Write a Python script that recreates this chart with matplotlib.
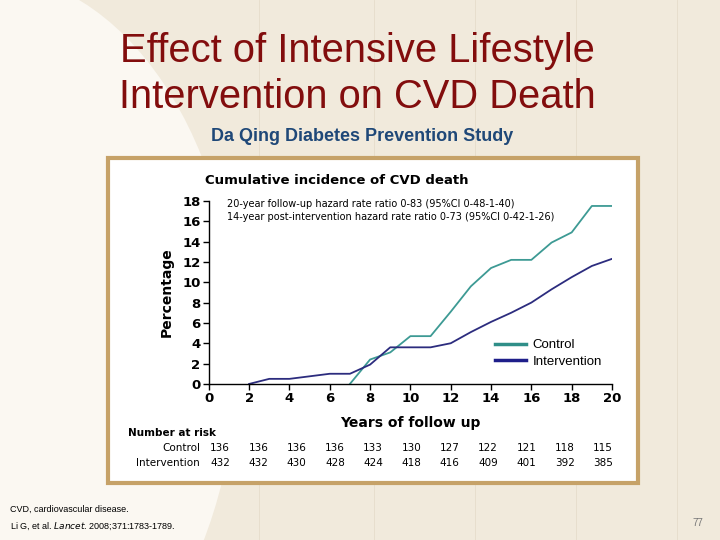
import matplotlib.pyplot as plt
from matplotlib.patches import Rectangle, Ellipse
from matplotlib.lines import Line2D

# Courbes d'incidence cumulée (lecture sur le graphique)
control_years = [7, 8, 9, 10, 11, 12, 13, 14, 15, 16, 17, 18, 19, 20]
control_pct = [0, 2.4, 3.1, 4.7, 4.7, 7.1, 9.6, 11.4, 12.2, 12.2, 13.9, 14.9, 17.5, 17.5]
interv_years = [2, 3, 4, 5, 6, 7, 8, 9, 10, 11, 12, 13, 14, 15, 16, 17, 18, 19, 20]
interv_pct = [0, 0.5, 0.5, 0.75, 1.0, 1.0, 1.9, 3.6, 3.6, 3.6, 4.0, 5.1, 6.1, 7.0, 8.0, 9.3, 10.5, 11.6, 12.3]

# Nombre de sujets à risque
risk_control = [136, 136, 136, 136, 133, 130, 127, 122, 121, 118, 115]
risk_interv = [432, 432, 430, 428, 424, 418, 416, 409, 401, 392, 385]

x_ticks = list(range(0, 21, 2))
y_ticks = list(range(0, 19, 2))

c_control = "#3d9a94"
c_interv = "#2c2c7e"

fig = plt.figure(figsize=(7.2, 5.4), dpi=100)
fig.patch.set_facecolor("#f1eadc")

# fond clair à gauche de la diapo
fig.patches.append(Ellipse((-0.02, 0.35), 0.70, 1.40, transform=fig.transFigure,
                           facecolor="#fbf8f2", edgecolor="none", zorder=0))
for xv in [0.36, 0.52, 0.66, 0.80, 0.94]:
    fig.add_artist(Line2D([xv, xv], [0, 1], transform=fig.transFigure,
                          color="#e6dccb", lw=0.6, zorder=0))

# Titre
fig.text(0.497, 0.906, "Effect of Intensive Lifestyle", ha="center", va="center",
         fontsize=28.7, color="#820d0d", family="Liberation Sans")
fig.text(0.497, 0.820, "Intervention on CVD Death", ha="center", va="center",
         fontsize=28.7, color="#820d0d", family="Liberation Sans")
fig.text(0.503, 0.748, "Da Qing Diabetes Prevention Study", ha="center", va="center",
         fontsize=13, color="#1f4878", fontweight="bold", family="Liberation Sans")

# Cadre du graphique
fig.patches.append(Rectangle((0.150, 0.1056), 0.736, 0.602, transform=fig.transFigure,
                             facecolor="white", edgecolor="#c6a268", lw=3, zorder=1))

ax = fig.add_axes([0.290, 0.289, 0.560, 0.339])
ax.set_zorder(2)
ax.patch.set_alpha(0)
ax.plot(control_years, control_pct, color=c_control, lw=1.3)
ax.plot(interv_years, interv_pct, color=c_interv, lw=1.3)
ax.set_xlim(0, 20)
ax.set_ylim(0, 18)
ax.set_xticks(x_ticks)
ax.set_yticks(y_ticks)
ax.tick_params(labelsize=9.5, width=1, length=4, pad=2)
for lab in ax.get_xticklabels() + ax.get_yticklabels():
    lab.set_fontweight("bold")
for s in ["top", "right"]:
    ax.spines[s].set_visible(False)
ax.spines["left"].set_linewidth(1)
ax.spines["bottom"].set_linewidth(1)
ax.set_ylabel("Percentage", fontsize=10, fontweight="bold", labelpad=6)
ax.set_xlabel("Years of follow up", fontsize=10, fontweight="bold", labelpad=8)

ax.text(-0.2, 20.0, "Cumulative incidence of CVD death", fontsize=9.5,
        fontweight="bold", va="center", ha="left")
ax.text(0.9, 17.7, "20-year follow-up hazard rate ratio 0-83 (95%CI 0-48-1-40)",
        fontsize=7.0, va="center", ha="left")
ax.text(0.9, 16.4, "14-year post-intervention hazard rate ratio 0-73 (95%CI 0-42-1-26)",
        fontsize=7.0, va="center", ha="left")

leg = ax.legend(
    [Line2D([], [], color="#2f8e88", lw=2.5), Line2D([], [], color="#1e1e8a", lw=2.5)],
    ["Control", "Intervention"], loc="upper left",
    bbox_to_anchor=(495 / 720, 1 - 339 / 540), bbox_transform=fig.transFigure,
    borderaxespad=0, borderpad=0, frameon=False, handlelength=2.35,
    handletextpad=0.5, labelspacing=0.35,
    prop={"family": "Liberation Sans", "size": 9.5})

# Tableau des sujets à risque
fig.text(128 / 720, 1 - 433 / 540, "Number at risk", fontsize=7.5,
         fontweight="bold", va="center", ha="left")
fig.text(200 / 720, 1 - 448 / 540, "Control", fontsize=7.5, va="center", ha="right")
fig.text(200 / 720, 1 - 463 / 540, "Intervention", fontsize=7.5, va="center", ha="right")
for i, (nc, ni) in enumerate(zip(risk_control, risk_interv)):
    xp = (220 + i * 38.3) / 720
    fig.text(xp, 1 - 448 / 540, str(nc), fontsize=7.5, va="center", ha="center")
    fig.text(xp, 1 - 463 / 540, str(ni), fontsize=7.5, va="center", ha="center")

# Pied de page
fig.text(10 / 720, 1 - 509 / 540, "CVD, cardiovascular disease.", fontsize=6.5,
         va="center", ha="left", family="Liberation Sans")
fig.text(10 / 720, 1 - 526 / 540, "Li G, et al. $\\it{Lancet}$. 2008;371:1783-1789.",
         fontsize=6.5, va="center", ha="left", family="Liberation Sans")
fig.text(698 / 720, 1 - 523 / 540, "77", fontsize=7, color="#777777",
         va="center", ha="center", family="Liberation Sans")

fig.savefig("out.png", dpi=100, facecolor=fig.get_facecolor())
